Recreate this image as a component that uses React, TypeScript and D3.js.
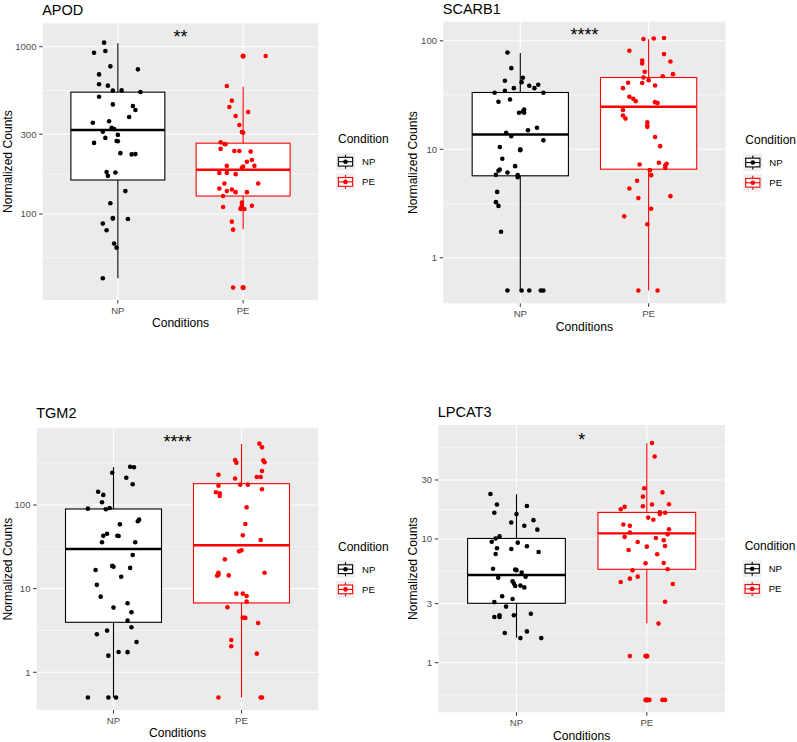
import React from "react";
import * as d3 from "d3";

const CONDITIONS = ["NP", "PE"];
const COLORS: Record<string, string> = { NP: "#000000", PE: "#FF0000" };
const X_TITLE = "Conditions";
const Y_TITLE = "Normalized Counts";
const LEGEND_TITLE = "Condition";

// ---------- APOD ----------
const APOD_NP_VALUES = [1057, 921, 942, 763, 732, 683, 596, 585, 546, 548, 536, 502, 452, 442, 418, 380, 351, 358, 327, 322, 310, 297, 285, 272, 273, 266, 231, 227, 228, 178, 177, 169, 137, 116, 93.8, 94.6, 93.4, 87.6, 79.9, 66.5, 62.9, 41.3];
const APOD_NP_JITTER = [-0.11, -0.19, -0.1, -0.06, 0.16, -0.15, -0.15, -0.08, -0.04, 0.03, 0.18, -0.15, -0.04, 0.12, 0.14, 0.09, -0.2, -0.07, -0.05, -0.03, -0.12, 0.0, -0.1, 0.0, -0.01, -0.19, 0.02, 0.11, 0.14, -0.09, -0.02, -0.08, 0.06, -0.06, -0.04, -0.04, 0.08, -0.12, -0.09, -0.03, -0.01, -0.12];
const APOD_PE_VALUES = [879, 582, 476, 436, 407, 385, 340, 309, 306, 268, 262, 261, 245, 238, 238, 236, 210, 205, 194, 194, 192, 189, 176, 176, 173, 152, 152, 142, 140, 137, 135, 135, 128, 117, 112, 112, 110, 108, 107, 107, 90, 80.6, 36.3];
const APOD_PE_JITTER = [0.18, -0.13, -0.09, -0.11, 0.04, -0.06, -0.03, -0.01, 0.0, -0.18, -0.15, -0.14, -0.18, -0.07, -0.03, 0.06, 0.07, 0.03, -0.13, 0.09, 0.0, -0.01, -0.19, -0.13, -0.06, 0.12, -0.15, -0.19, -0.09, -0.13, -0.06, 0.03, -0.16, -0.01, -0.01, 0.07, -0.16, -0.02, -0.02, 0.01, -0.09, -0.08, -0.08];
const APOD_NP_BOX = [41.3, 159.6, 318, 535, 1047];
const APOD_PE_BOX = [81, 128, 184, 265, 577];
const APOD_NP_OUTLIERS: number[] = [];
const APOD_PE_OUTLIERS = [879, 36.3];
const APOD_TICKS = [100, 300, 1000];
const APOD_TICKS_EXT = [30, 3000];
const APOD_Y_DOMAIN = [30.6, 1380];
const APOD_SIG = "**";
const APOD_SIG_Y = 1050;

// ---------- SCARB1 ----------
const SCARB1_NP_VALUES = [78, 56, 45.6, 42.8, 41.6, 38.5, 39.3, 36.6, 36.6, 34.6, 33.2, 33.2, 28.8, 27.4, 23.3, 22.3, 21.7, 21.7, 15.8, 15.0, 14.2, 13.2, 12.1, 10.5, 10.0, 9.8, 8.18, 6.52, 6.34, 7.0, 6.12, 5.82, 5.78, 5.54, 4.05, 3.26, 3.01, 1.74, 0.5, 0.5, 0.5, 0.5, 0.5];
const SCARB1_NP_JITTER = [-0.1, -0.07, 0.02, -0.12, 0.01, 0.07, 0.14, 0.11, -0.05, -0.12, -0.2, 0.18, -0.08, -0.17, 0.03, 0.02, -0.01, 0.03, 0.13, 0.06, -0.11, -0.07, 0.18, -0.16, 0.0, 0.0, -0.14, -0.16, -0.17, -0.04, -0.1, -0.19, -0.02, -0.02, -0.18, -0.19, -0.17, -0.15, -0.1, 0.01, 0.07, 0.16, 0.18];
const SCARB1_PE_VALUES = [105, 106, 104, 80.9, 75.4, 65.9, 64.5, 61.8, 51.8, 49.3, 47.2, 45.9, 43.4, 41.0, 40.8, 38.7, 36.6, 30.5, 29.2, 27.8, 27.2, 26.7, 23.0, 20.5, 19.2, 17.7, 16.6, 16.1, 13.0, 10.7, 7.51, 7.24, 7.35, 7.1, 6.75, 6.43, 5.78, 5.13, 4.36, 3.7, 3.55, 2.83, 2.41, 2.04, 0.5, 0.5];
const SCARB1_PE_JITTER = [0.04, 0.12, -0.04, -0.15, 0.12, -0.05, 0.17, -0.05, -0.03, 0.19, 0.11, -0.04, 0.0, -0.16, -0.05, 0.05, -0.2, -0.15, -0.12, -0.1, 0.05, 0.07, -0.2, -0.2, -0.18, -0.01, -0.01, -0.01, 0.05, 0.09, 0.08, -0.07, 0.14, 0.13, 0.13, 0.01, 0.02, -0.09, -0.15, 0.17, -0.08, 0.02, -0.19, -0.01, -0.08, 0.07];
const SCARB1_NP_BOX = [0.5, 5.7, 13.7, 33.4, 77.4];
const SCARB1_PE_BOX = [0.5, 6.56, 24.7, 45.9, 103.6];
const SCARB1_NP_OUTLIERS: number[] = [];
const SCARB1_PE_OUTLIERS: number[] = [];
const SCARB1_TICKS = [1, 10, 100];
const SCARB1_TICKS_EXT = [0.1, 1000];
const SCARB1_Y_DOMAIN = [0.381, 150];
const SCARB1_SIG = "****";
const SCARB1_SIG_Y = 99;

// ---------- TGM2 ----------
const TGM2_NP_VALUES = [287, 283, 243, 212, 177, 144, 132, 108, 90.4, 89, 92, 66.8, 63.8, 58.7, 45.4, 42.9, 42.9, 42.6, 35.8, 35.8, 25.2, 18.7, 18.3, 17.7, 16.7, 13.9, 11.1, 8.02, 6.68, 5.93, 5.21, 4.14, 3.45, 3.15, 2.85, 2.3, 1.75, 1.74, 1.58, 0.5, 0.5, 0.5];
const TGM2_NP_JITTER = [0.13, 0.16, -0.01, 0.1, 0.15, -0.12, -0.08, -0.09, -0.2, -0.06, -0.03, 0.2, 0.19, 0.05, -0.05, -0.08, 0.03, 0.04, -0.09, 0.17, 0.15, -0.01, 0.0, 0.13, -0.14, 0.06, -0.13, -0.1, 0.11, 0.0, 0.14, 0.11, 0.14, -0.05, -0.13, 0.18, 0.04, 0.11, -0.04, -0.2, -0.04, 0.02];
const TGM2_PE_VALUES = [541, 489, 345, 321, 343, 324, 255, 230, 207, 216, 216, 170, 175, 175, 154, 142, 138, 128, 93.8, 59.3, 43.4, 38.2, 27.9, 28.7, 22.4, 15.5, 15.5, 14.7, 14.3, 14.4, 8.71, 8.71, 8.18, 6.99, 5.98, 4.5, 4.47, 3.89, 2.43, 2.05, 1.67, 0.5, 0.5, 0.5];
const TGM2_PE_JITTER = [0.14, 0.16, -0.05, -0.04, 0.17, 0.18, 0.16, -0.18, -0.05, 0.12, 0.15, -0.18, -0.01, 0.05, 0.16, -0.2, -0.17, -0.17, 0.04, 0.03, 0.01, 0.15, -0.02, 0.0, -0.13, -0.18, 0.18, -0.18, -0.19, -0.1, -0.04, 0.01, 0.04, 0.04, -0.11, 0.01, 0.03, 0.13, -0.08, -0.08, 0.12, -0.18, 0.15, 0.16];
const TGM2_NP_BOX = [0.5, 3.96, 29.8, 89.6, 284];
const TGM2_PE_BOX = [0.5, 6.75, 33.0, 180, 536];
const TGM2_NP_OUTLIERS: number[] = [];
const TGM2_PE_OUTLIERS: number[] = [];
const TGM2_TICKS = [1, 10, 100];
const TGM2_TICKS_EXT = [0.1, 1000];
const TGM2_Y_DOMAIN = [0.354, 826];
const TGM2_SIG = "****";
const TGM2_SIG_Y = 485;

// ---------- LPCAT3 ----------
const LPCAT3_NP_VALUES = [23.1, 19.0, 18.5, 16.3, 15.9, 14.2, 13.6, 12.8, 11.9, 10.5, 10.1, 9.5, 9.34, 8.73, 8.41, 8.3, 7.85, 7.57, 5.75, 5.65, 5.6, 5.35, 4.96, 4.87, 4.55, 4.36, 4.17, 4.2, 4.06, 3.44, 3.27, 3.09, 2.84, 2.49, 2.42, 2.34, 2.34, 2.42, 1.79, 1.74, 1.58, 1.58];
const LPCAT3_NP_JITTER = [-0.2, -0.15, 0.08, -0.17, 0.0, 0.13, -0.04, 0.06, 0.16, -0.13, -0.16, -0.19, 0.01, 0.08, -0.15, -0.04, 0.17, -0.16, -0.18, -0.01, 0.0, 0.04, 0.07, -0.14, -0.03, -0.02, -0.01, 0.03, 0.06, -0.11, -0.03, -0.17, -0.08, 0.11, -0.02, -0.17, -0.13, -0.13, 0.08, -0.09, 0.03, 0.19];
const LPCAT3_PE_VALUES = [59.7, 46.4, 25.7, 23.8, 22.0, 19.0, 18.4, 19.1, 17.4, 18.2, 16.4, 16.3, 15.9, 14.9, 14.3, 13.1, 12.8, 12.0, 11.3, 10.9, 10.4, 10.2, 9.76, 9.45, 8.67, 8.78, 8.15, 7.52, 6.36, 6.39, 5.69, 5.58, 4.78, 4.96, 4.49, 4.33, 3.11, 2.07, 1.13, 1.13, 0.5, 0.5, 0.5, 0.5];
const LPCAT3_PE_JITTER = [0.04, 0.06, -0.02, 0.12, -0.03, 0.04, -0.03, 0.17, -0.2, -0.17, 0.1, 0.14, 0.1, 0.01, 0.05, -0.18, -0.13, 0.17, -0.13, 0.16, -0.17, 0.07, 0.13, -0.07, 0.0, 0.14, -0.14, 0.08, -0.01, 0.13, 0.16, -0.11, -0.13, -0.07, -0.2, 0.2, 0.14, 0.09, -0.13, -0.01, -0.01, 0.02, 0.12, 0.14];
const LPCAT3_NP_BOX = [1.59, 3.02, 5.12, 10.1, 23.0];
const LPCAT3_PE_BOX = [2.08, 5.69, 11.1, 16.4, 59.4];
const LPCAT3_NP_OUTLIERS: number[] = [];
const LPCAT3_PE_OUTLIERS = [1.13, 0.5];
const LPCAT3_TICKS = [1, 3, 10, 30];
const LPCAT3_TICKS_EXT = [0.3, 100];
const LPCAT3_Y_DOMAIN = [0.397, 83.5];
const LPCAT3_SIG = "*";
const LPCAT3_SIG_Y = 57;

// ---------- layout (pixels) ----------
const FONT = "'Liberation Sans', Arial, Helvetica, sans-serif";

type Series = { values: number[]; jitter: number[]; box: number[]; outliers: number[] };
type PanelCfg = {
  title: string;
  left: number; right: number; top: number; bottom: number;
  titleY: number; yTitleX: number;
  yDomain: number[]; ticks: number[]; ticksExt: number[];
  sig: string; sigY: number;
  series: Record<string, Series>;
};

const PANELS: PanelCfg[] = [
  {
    title: "APOD", left: 42.7, right: 318.3, top: 23.3, bottom: 300, titleY: 14.5, yTitleX: 11.5,
    yDomain: APOD_Y_DOMAIN, ticks: APOD_TICKS, ticksExt: APOD_TICKS_EXT, sig: APOD_SIG, sigY: APOD_SIG_Y,
    series: {
      NP: { values: APOD_NP_VALUES, jitter: APOD_NP_JITTER, box: APOD_NP_BOX, outliers: APOD_NP_OUTLIERS },
      PE: { values: APOD_PE_VALUES, jitter: APOD_PE_JITTER, box: APOD_PE_BOX, outliers: APOD_PE_OUTLIERS },
    },
  },
  {
    title: "SCARB1", left: 443.3, right: 725.6, top: 21.7, bottom: 303.3, titleY: 13.5, yTitleX: 417,
    yDomain: SCARB1_Y_DOMAIN, ticks: SCARB1_TICKS, ticksExt: SCARB1_TICKS_EXT, sig: SCARB1_SIG, sigY: SCARB1_SIG_Y,
    series: {
      NP: { values: SCARB1_NP_VALUES, jitter: SCARB1_NP_JITTER, box: SCARB1_NP_BOX, outliers: SCARB1_NP_OUTLIERS },
      PE: { values: SCARB1_PE_VALUES, jitter: SCARB1_PE_JITTER, box: SCARB1_PE_BOX, outliers: SCARB1_PE_OUTLIERS },
    },
  },
  {
    title: "TGM2", left: 36.7, right: 318.3, top: 428.3, bottom: 710, titleY: 418.3, yTitleX: 11.5,
    yDomain: TGM2_Y_DOMAIN, ticks: TGM2_TICKS, ticksExt: TGM2_TICKS_EXT, sig: TGM2_SIG, sigY: TGM2_SIG_Y,
    series: {
      NP: { values: TGM2_NP_VALUES, jitter: TGM2_NP_JITTER, box: TGM2_NP_BOX, outliers: TGM2_NP_OUTLIERS },
      PE: { values: TGM2_PE_VALUES, jitter: TGM2_PE_JITTER, box: TGM2_PE_BOX, outliers: TGM2_PE_OUTLIERS },
    },
  },
  {
    title: "LPCAT3", left: 438.3, right: 725, top: 425, bottom: 712.3, titleY: 416.7, yTitleX: 417,
    yDomain: LPCAT3_Y_DOMAIN, ticks: LPCAT3_TICKS, ticksExt: LPCAT3_TICKS_EXT, sig: LPCAT3_SIG, sigY: LPCAT3_SIG_Y,
    series: {
      NP: { values: LPCAT3_NP_VALUES, jitter: LPCAT3_NP_JITTER, box: LPCAT3_NP_BOX, outliers: LPCAT3_NP_OUTLIERS },
      PE: { values: LPCAT3_PE_VALUES, jitter: LPCAT3_PE_JITTER, box: LPCAT3_PE_BOX, outliers: LPCAT3_PE_OUTLIERS },
    },
  },
];

const PANEL_BG = "#EBEBEB";
const TICK_TEXT = "#4D4D4D";
const TICK_LINE = "#333333";
const BOX_WIDTH = 0.75;
const POINT_R = 2.3;
const OUTLIER_R = 2.6;

function Legend({ x, cy }: { x: number; cy: number }) {
  const kw = 19;
  const kh = 17.5;
  const tops = [cy - 8.7, cy + 11.5];
  return (
    <g>
      <text x={x + 2} y={cy - 18.4} fontSize={12} fill="#000" fontFamily={FONT}>{LEGEND_TITLE}</text>
      {CONDITIONS.map((c, i) => {
        const t = tops[i];
        const col = COLORS[c];
        const mx = x + kw / 2;
        return (
          <g key={c}>
            <rect x={x} y={t} width={kw} height={kh} fill="#F0F0F0" />
            <line x1={mx} x2={mx} y1={t + kh * 0.1} y2={t + kh * 0.25} stroke={col} strokeWidth={1.1} />
            <line x1={mx} x2={mx} y1={t + kh * 0.75} y2={t + kh * 0.9} stroke={col} strokeWidth={1.1} />
            <rect x={x + kw * 0.125} y={t + kh * 0.25} width={kw * 0.75} height={kh * 0.5} fill="#fff" stroke={col} strokeWidth={1.1} />
            <line x1={x + kw * 0.125} x2={x + kw * 0.875} y1={t + kh / 2} y2={t + kh / 2} stroke={col} strokeWidth={1.1} />
            <circle cx={mx} cy={t + kh / 2} r={POINT_R} fill={col} />
            <text x={x + kw + 7} y={t + kh / 2} dy="0.35em" fontSize={9.6} fill="#000" fontFamily={FONT}>{c}</text>
          </g>
        );
      })}
    </g>
  );
}

function Panel({ cfg }: { cfg: PanelCfg }) {
  const x = d3.scalePoint<string>().domain(CONDITIONS).range([cfg.left, cfg.right]).padding(0.6);
  const unit = x.step();
  const y = d3.scaleLog().domain(cfg.yDomain).range([cfg.bottom, cfg.top]);
  const [d0, d1] = cfg.yDomain;
  const allBreaks = [cfg.ticksExt[0], ...cfg.ticks, cfg.ticksExt[1]];
  const minors = d3.pairs(allBreaks).map(([a, b]) => Math.sqrt(a * b)).filter((v) => v > d0 && v < d1);
  const cx = (cfg.left + cfg.right) / 2;
  const cy = (cfg.top + cfg.bottom) / 2;
  const bw = unit * BOX_WIDTH;

  return (
    <g>
      <text x={cfg.left - 0.5} y={cfg.titleY} fontSize={14.5} fill="#000" fontFamily={FONT}>{cfg.title}</text>
      <rect x={cfg.left} y={cfg.top} width={cfg.right - cfg.left} height={cfg.bottom - cfg.top} fill={PANEL_BG} />
      {minors.map((m) => (
        <line key={"mi" + m} x1={cfg.left} x2={cfg.right} y1={y(m)} y2={y(m)} stroke="#fff" strokeWidth={0.55} />
      ))}
      {cfg.ticks.map((t) => (
        <line key={"ma" + t} x1={cfg.left} x2={cfg.right} y1={y(t)} y2={y(t)} stroke="#fff" strokeWidth={1.1} />
      ))}
      {CONDITIONS.map((c) => (
        <line key={"vx" + c} x1={x(c)} x2={x(c)} y1={cfg.top} y2={cfg.bottom} stroke="#fff" strokeWidth={1.1} />
      ))}
      {CONDITIONS.map((c) => {
        const s = cfg.series[c];
        const col = COLORS[c];
        const xc = x(c) as number;
        const [lo, q1, med, q3, hi] = s.box;
        return (
          <g key={"box" + c}>
            <line x1={xc} x2={xc} y1={y(q3)} y2={y(hi)} stroke={col} strokeWidth={1.1} />
            <line x1={xc} x2={xc} y1={y(q1)} y2={y(lo)} stroke={col} strokeWidth={1.1} />
            <rect x={xc - bw / 2} y={y(q3)} width={bw} height={y(q1) - y(q3)} fill="#fff" stroke={col} strokeWidth={1.1} />
            <line x1={xc - bw / 2} x2={xc + bw / 2} y1={y(med)} y2={y(med)} stroke={col} strokeWidth={2.4} />
            {s.outliers.map((o, i) => (
              <circle key={"o" + i} cx={xc} cy={y(o)} r={OUTLIER_R} fill={col} />
            ))}
          </g>
        );
      })}
      {CONDITIONS.map((c) => {
        const s = cfg.series[c];
        const col = COLORS[c];
        const xc = x(c) as number;
        return (
          <g key={"pts" + c}>
            {s.values.map((v, i) => (
              <circle key={i} cx={xc + s.jitter[i] * unit} cy={y(v)} r={POINT_R} fill={col} />
            ))}
          </g>
        );
      })}
      <text x={cx} y={y(cfg.sigY)} textAnchor="middle" fontSize={18} fill="#000" fontFamily={FONT}>{cfg.sig}</text>
      {/* y axis */}
      {cfg.ticks.map((t) => (
        <g key={"yt" + t}>
          <line x1={cfg.left - 3.5} x2={cfg.left} y1={y(t)} y2={y(t)} stroke={TICK_LINE} strokeWidth={1} />
          <text x={cfg.left - 6.2} y={y(t)} dy="0.35em" textAnchor="end" fontSize={9.6} fill={TICK_TEXT} fontFamily={FONT}>{t}</text>
        </g>
      ))}
      {/* x axis */}
      {CONDITIONS.map((c) => (
        <g key={"xt" + c}>
          <line x1={x(c)} x2={x(c)} y1={cfg.bottom} y2={cfg.bottom + 3.5} stroke={TICK_LINE} strokeWidth={1} />
          <text x={x(c)} y={cfg.bottom + 13.5} textAnchor="middle" fontSize={9.6} fill={TICK_TEXT} fontFamily={FONT}>{c}</text>
        </g>
      ))}
      <text x={cx} y={cfg.bottom + 27.3} textAnchor="middle" fontSize={12.1} fill="#000" fontFamily={FONT}>{X_TITLE}</text>
      <text transform={`translate(${cfg.yTitleX},${cy}) rotate(-90)`} textAnchor="middle" fontSize={12.1} fill="#000" fontFamily={FONT}>{Y_TITLE}</text>
      <Legend x={cfg.right + 17.7} cy={cy} />
    </g>
  );
}

export default function App() {
  return (
    <svg width={797} height={742} viewBox="0 0 797 742" style={{ position: "absolute", left: 0, top: 0, background: "#fff" }}>
      <rect x={0} y={0} width={797} height={742} fill="#fff" />
      {PANELS.map((p) => (
        <Panel key={p.title} cfg={p} />
      ))}
    </svg>
  );
}
